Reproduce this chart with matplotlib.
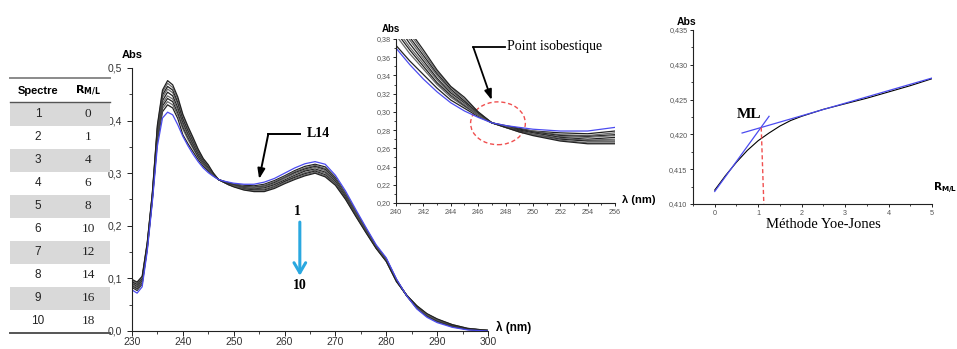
import matplotlib
matplotlib.use("Agg")
import matplotlib.pyplot as plt
from matplotlib.patches import Ellipse, Rectangle
from matplotlib.ticker import MultipleLocator, FuncFormatter

# --- UV-Vis spectra (10 spectra, first one is the blue curve) ---
wavelength = [230, 231, 232, 233, 234, 235, 236, 237, 238, 239, 240, 241, 242, 243, 244, 245,
              246, 247, 248, 249, 250, 252, 254, 256, 258, 260, 262, 264, 266, 268, 270, 272,
              274, 276, 278, 280, 282, 284, 286, 288, 290, 293, 296, 300]

spec_1 = [0.078, 0.072, 0.084, 0.152, 0.245, 0.352, 0.405, 0.416, 0.411, 0.392, 0.370, 0.352, 0.336, 0.322, 0.310, 0.301,
          0.294, 0.288, 0.285, 0.283, 0.281, 0.279, 0.279, 0.283, 0.290, 0.300, 0.310, 0.318, 0.322, 0.317, 0.296, 0.266,
          0.231, 0.197, 0.164, 0.139, 0.099, 0.067, 0.042, 0.026, 0.016, 0.007, 0.002, 0.000]
spec_2 = [0.083, 0.077, 0.089, 0.156, 0.249, 0.361, 0.417, 0.430, 0.424, 0.404, 0.373, 0.356, 0.341, 0.326, 0.313, 0.304,
          0.295, 0.288, 0.285, 0.282, 0.279, 0.277, 0.276, 0.279, 0.286, 0.295, 0.305, 0.313, 0.317, 0.312, 0.292, 0.262,
          0.228, 0.195, 0.162, 0.137, 0.098, 0.067, 0.043, 0.028, 0.018, 0.008, 0.003, 0.000]
spec_3 = [0.085, 0.079, 0.091, 0.157, 0.251, 0.365, 0.423, 0.436, 0.430, 0.410, 0.384, 0.364, 0.347, 0.330, 0.316, 0.306,
          0.296, 0.288, 0.284, 0.281, 0.279, 0.275, 0.274, 0.277, 0.284, 0.293, 0.303, 0.310, 0.315, 0.309, 0.290, 0.261,
          0.227, 0.194, 0.162, 0.137, 0.097, 0.067, 0.044, 0.028, 0.018, 0.009, 0.003, 0.000]
spec_4 = [0.087, 0.081, 0.093, 0.159, 0.252, 0.369, 0.428, 0.442, 0.436, 0.415, 0.388, 0.368, 0.350, 0.332, 0.318, 0.307,
          0.297, 0.288, 0.284, 0.281, 0.278, 0.274, 0.273, 0.275, 0.282, 0.291, 0.301, 0.308, 0.313, 0.307, 0.288, 0.259,
          0.225, 0.193, 0.161, 0.136, 0.097, 0.067, 0.045, 0.029, 0.019, 0.009, 0.003, 0.000]
spec_5 = [0.088, 0.083, 0.094, 0.160, 0.254, 0.373, 0.433, 0.447, 0.441, 0.420, 0.392, 0.371, 0.353, 0.335, 0.319, 0.308,
          0.297, 0.288, 0.284, 0.280, 0.277, 0.273, 0.272, 0.274, 0.280, 0.290, 0.299, 0.306, 0.311, 0.305, 0.286, 0.258,
          0.224, 0.192, 0.160, 0.135, 0.096, 0.068, 0.045, 0.030, 0.020, 0.010, 0.004, 0.001]
spec_6 = [0.091, 0.085, 0.097, 0.162, 0.256, 0.377, 0.438, 0.454, 0.447, 0.425, 0.397, 0.375, 0.356, 0.337, 0.321, 0.310,
          0.298, 0.288, 0.284, 0.280, 0.277, 0.272, 0.270, 0.272, 0.278, 0.287, 0.296, 0.304, 0.308, 0.302, 0.284, 0.256,
          0.223, 0.191, 0.160, 0.135, 0.096, 0.068, 0.046, 0.030, 0.020, 0.010, 0.004, 0.001]
spec_7 = [0.093, 0.087, 0.099, 0.164, 0.257, 0.381, 0.444, 0.460, 0.453, 0.431, 0.401, 0.379, 0.359, 0.340, 0.323, 0.311,
          0.298, 0.288, 0.284, 0.279, 0.276, 0.271, 0.269, 0.270, 0.276, 0.285, 0.294, 0.301, 0.306, 0.300, 0.282, 0.254,
          0.222, 0.190, 0.159, 0.134, 0.095, 0.068, 0.046, 0.031, 0.021, 0.011, 0.004, 0.001]
spec_8 = [0.094, 0.089, 0.100, 0.165, 0.259, 0.385, 0.449, 0.465, 0.458, 0.435, 0.404, 0.382, 0.362, 0.342, 0.325, 0.312,
          0.299, 0.288, 0.283, 0.279, 0.275, 0.270, 0.268, 0.268, 0.274, 0.284, 0.292, 0.299, 0.304, 0.297, 0.280, 0.253,
          0.220, 0.189, 0.158, 0.133, 0.095, 0.068, 0.047, 0.032, 0.022, 0.011, 0.004, 0.001]
spec_9 = [0.096, 0.091, 0.102, 0.167, 0.261, 0.389, 0.454, 0.471, 0.463, 0.441, 0.409, 0.386, 0.365, 0.344, 0.327, 0.314,
          0.300, 0.288, 0.283, 0.278, 0.275, 0.269, 0.266, 0.266, 0.273, 0.282, 0.290, 0.297, 0.302, 0.295, 0.279, 0.251,
          0.219, 0.188, 0.158, 0.133, 0.094, 0.068, 0.048, 0.032, 0.022, 0.012, 0.005, 0.001]
spec_10 = [0.098, 0.093, 0.104, 0.168, 0.262, 0.392, 0.458, 0.476, 0.468, 0.445, 0.412, 0.389, 0.368, 0.346, 0.328, 0.316,
           0.300, 0.288, 0.283, 0.278, 0.274, 0.268, 0.265, 0.265, 0.271, 0.280, 0.288, 0.295, 0.300, 0.293, 0.277, 0.250,
           0.218, 0.187, 0.157, 0.132, 0.094, 0.068, 0.048, 0.033, 0.023, 0.012, 0.005, 0.001]
spectra = [spec_1, spec_2, spec_3, spec_4, spec_5, spec_6, spec_7, spec_8, spec_9, spec_10]

# --- table ---
table_spectre = [1, 2, 3, 4, 5, 6, 7, 8, 9, 10]
table_ratio = [0, 1, 4, 6, 8, 10, 12, 14, 16, 18]

# --- Yoe-Jones ---
yj_ratio = [0, 0.25, 0.5, 0.75, 1.0, 1.25, 1.5, 1.75, 2.0, 2.5, 3.0, 3.5, 4.0, 4.5, 5.0]
yj_abs = [0.4120, 0.4141, 0.4160, 0.4177, 0.4191, 0.4202, 0.4212, 0.4220, 0.4226,
          0.4236, 0.4244, 0.4252, 0.4261, 0.4270, 0.4280]
tangent1_r, tangent1_a = [0.0, 1.25], [0.4118, 0.4226]
tangent2_r, tangent2_a = [0.63, 5.0], [0.4202, 0.4281]
ml_r, ml_a = [1.07, 1.13], [0.4210, 0.4100]

W, H = 957, 349
fig = plt.figure(figsize=(W / 100, H / 100), dpi=100)


def px_box(x0, y0, x1, y1):
    return [x0 / W, 1 - y1 / H, (x1 - x0) / W, (y1 - y0) / H]


def style_axes(a, size, color="#333333"):
    for s in ("top", "right"):
        a.spines[s].set_visible(False)
    for s in ("left", "bottom"):
        a.spines[s].set_linewidth(0.8)
        a.spines[s].set_color("#222222")
    a.tick_params(which="major", direction="out", length=3.5, width=0.7, labelsize=size,
                  colors="#222222", labelcolor=color)
    a.tick_params(which="minor", direction="out", length=2, width=0.6, colors="#222222")
    a.set_facecolor("none")
    for lab in a.get_xticklabels() + a.get_yticklabels():
        lab.set_fontfamily("Liberation Sans")


comma = lambda fmt: FuncFormatter(lambda v, p: format(v, fmt).replace(".", ","))
line_cols = ["#222222", "#6a6a6a"]
blue = "#4b4bf0"

# ================= main spectra =================
ax = fig.add_axes(px_box(132, 68, 488, 331))
for k, s in enumerate(spectra[1:]):
    ax.plot(wavelength, s, color=line_cols[k % 2], lw=0.9)
ax.plot(wavelength, spectra[0], color=blue, lw=0.9)
ax.set_xlim(230, 300)
ax.set_ylim(0, 0.5)
ax.xaxis.set_major_locator(MultipleLocator(10))
ax.xaxis.set_minor_locator(MultipleLocator(5))
ax.yaxis.set_major_locator(MultipleLocator(0.1))
ax.yaxis.set_minor_locator(MultipleLocator(0.05))
ax.yaxis.set_major_formatter(comma(".1f"))
style_axes(ax, 7.5)
ax.tick_params(axis="x", which="major", pad=1)
ax.text(230, 0.515, "Abs", ha="center", va="bottom", fontsize=8, fontweight="bold",
        family="Liberation Sans")
ax.text(301.5, 0.006, "λ (nm)", ha="left", va="center", fontsize=8.5, fontweight="bold",
        family="Liberation Sans", clip_on=False)

# L14 arrow
ax.plot([263.0, 256.8], [0.3745, 0.3745], color="black", lw=1.4)
ax.annotate("", xy=(255.0, 0.289), xytext=(256.8, 0.3745),
            arrowprops=dict(arrowstyle="-|>,head_length=0.6,head_width=0.22", color="black", lw=1.4,
                            shrinkA=0, shrinkB=0, mutation_scale=10))
ax.text(264.4, 0.376, "L14", ha="left", va="center", fontsize=10, fontweight="bold",
        family="Liberation Serif")

# blue arrow 1 -> 10
ax.text(262.6, 0.228, "1", ha="center", va="center", fontsize=10, fontweight="bold",
        family="Liberation Serif")
ax.text(263.0, 0.086, "10", ha="center", va="center", fontsize=10, fontweight="bold",
        family="Liberation Serif")
ax.annotate("", xy=(263.0, 0.105), xytext=(263.0, 0.207),
            arrowprops=dict(arrowstyle="->,head_length=0.6,head_width=0.35", color="#2aa8e0", lw=2.2,
                            shrinkA=0, shrinkB=0, mutation_scale=12))

# ================= inset =================
ax_in = fig.add_axes(px_box(396, 39, 615, 203))
for k, s in enumerate(spectra[1:]):
    ax_in.plot(wavelength, s, color=line_cols[k % 2], lw=0.9)
ax_in.plot(wavelength, spectra[0], color=blue, lw=0.9)
ax_in.set_xlim(240, 256)
ax_in.set_ylim(0.20, 0.38)
ax_in.xaxis.set_major_locator(MultipleLocator(2))
ax_in.xaxis.set_minor_locator(MultipleLocator(1))
ax_in.yaxis.set_major_locator(MultipleLocator(0.02))
ax_in.yaxis.set_minor_locator(MultipleLocator(0.01))
ax_in.yaxis.set_major_formatter(comma(".2f"))
style_axes(ax_in, 5.2, "#555555")
ax_in.tick_params(which="major", length=2.5, pad=1.5)
ax_in.tick_params(which="minor", length=1.5)
ax_in.text(239.6, 0.386, "Abs", ha="center", va="bottom", fontsize=7, fontweight="bold",
           family="Liberation Sans")
ax_in.text(256.5, 0.203, "λ (nm)", ha="left", va="center", fontsize=8, fontweight="bold",
           family="Liberation Sans", clip_on=False)
ax_in.add_patch(Ellipse((247.45, 0.2875), 4.0, 0.047, fill=False, ec="#f05050", lw=1.0, ls=(0, (3, 2))))
ax_in.plot([247.96, 245.65], [0.3709, 0.3709], color="black", lw=1.3)
ax_in.annotate("", xy=(246.99, 0.3131), xytext=(245.65, 0.3709),
               arrowprops=dict(arrowstyle="-|>,head_length=0.6,head_width=0.22", color="black", lw=1.3,
                               shrinkA=0, shrinkB=0, mutation_scale=10))
ax_in.text(248.1, 0.3715, "Point isobestique", ha="left", va="center", fontsize=10,
           family="Liberation Serif")

# ================= Yoe-Jones =================
ax_r = fig.add_axes(px_box(693, 30, 932, 204))
ax_r.plot(yj_ratio, yj_abs, color="black", lw=0.8)
ax_r.plot(tangent1_r, tangent1_a, color=blue, lw=0.9)
ax_r.plot(tangent2_r, tangent2_a, color=blue, lw=0.9)
ax_r.plot(ml_r, ml_a, color="#f05050", lw=1.0, ls=(0, (3, 2)))
ax_r.set_xlim(-0.5, 5)
ax_r.set_ylim(0.410, 0.435)
ax_r.xaxis.set_major_locator(MultipleLocator(1))
ax_r.xaxis.set_minor_locator(MultipleLocator(0.5))
ax_r.yaxis.set_major_locator(MultipleLocator(0.005))
ax_r.yaxis.set_minor_locator(MultipleLocator(0.0025))
ax_r.yaxis.set_major_formatter(comma(".3f"))
style_axes(ax_r, 5.2, "#555555")
ax_r.tick_params(which="major", length=2.5, pad=1.5)
ax_r.tick_params(which="minor", length=1.5)
ax_r.text(-0.65, 0.4355, "Abs", ha="center", va="bottom", fontsize=7.5, fontweight="bold",
          family="Liberation Sans")
ax_r.text(5.02, 0.4112, r"$\mathbf{R_{M/L}}$", ha="left", va="bottom", fontsize=7.5, clip_on=False)
ax_r.text(0.8, 0.4228, "ML", ha="center", va="center", fontsize=11, fontweight="bold",
          family="Liberation Serif")
fig.text(823 / W, 1 - 224 / H, "Méthode Yoe-Jones", ha="center", va="center", fontsize=10.5,
         family="Liberation Serif")

# ================= table =================
ax_t = fig.add_axes(px_box(0, 60, 125, 345))
ax_t.set_xlim(0, 125)
ax_t.set_ylim(345, 60)
ax_t.axis("off")
row_top, row_h = 102.5, 23.0
for i, (sp, rt) in enumerate(zip(table_spectre, table_ratio)):
    y = row_top + i * row_h
    if i % 2 == 0:
        ax_t.add_patch(Rectangle((10, y), 100, row_h, fc="#d9d9d9", ec="none"))
    ax_t.text(38, y + row_h / 2, str(sp), ha="center", va="center", fontsize=8.5,
              family="Liberation Sans", color="#222222")
    ax_t.text(88, y + row_h / 2, str(rt), ha="center", va="center", fontsize=9.5,
              family="Liberation Serif", color="#222222")
ax_t.plot([10, 110], [78, 78], color="#8a8a8a", lw=1.4)
ax_t.plot([10, 110], [102, 102], color="#555555", lw=1.0)
ax_t.plot([10, 110], [row_top + 10 * row_h, row_top + 10 * row_h], color="#555555", lw=1.4)
ax_t.text(38, 91, "Spectre", ha="center", va="center", fontsize=8, fontweight="bold",
          family="Liberation Sans")
ax_t.text(88, 91, r"$\mathbf{R_{M/L}}$", ha="center", va="center", fontsize=8)

fig.savefig("out.png", dpi=100)
